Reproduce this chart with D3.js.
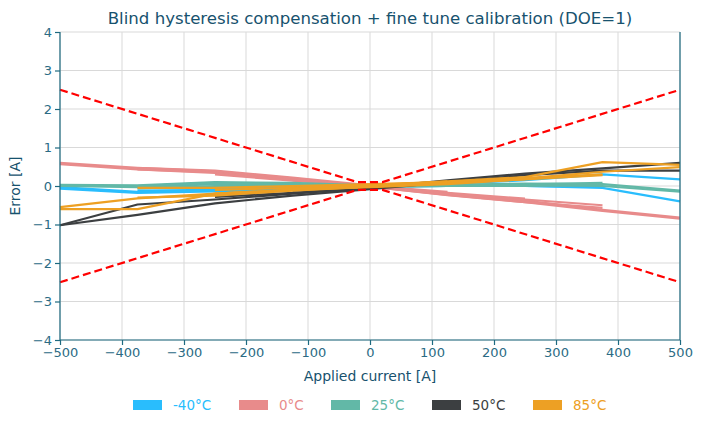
<!DOCTYPE html>
<html>
<head>
<meta charset="utf-8">
<script src="https://cdn.jsdelivr.net/npm/d3@7"></script>
<style>
  body { margin: 0; background: #fff; }
  svg { font-family: "DejaVu Sans", sans-serif; }
  .grid line { stroke: #d9d9d9; stroke-width: 1; }
  .axis path, .axis line { stroke: #1d6a80; }
  .axis text { fill: #2b6b84; font-size: 13px; }
</style>
</head>
<body>
<svg id="chart" width="702" height="428"></svg>
<script>
// x positions of the measurement points [A]
const currents = [-500, -375, -250, -125, 0, 125, 250, 375, 500];

// error [A] for each sweep, null where a sweep does not reach
const errMinus40 = [
  [-0.03, -0.15, -0.12, -0.06, 0.0, 0.05, 0.15, 0.3, 0.17],
  [-0.07, -0.18, -0.14, -0.08, -0.02, 0.0, 0.0, -0.05, -0.4],
  [null, -0.12, -0.1, -0.05, 0.0, 0.02, 0.02, 0.0, null],
  [null, -0.15, -0.12, -0.06, -0.01, 0.0, 0.0, -0.02, null],
  [null, null, -0.08, -0.04, 0.0, 0.02, 0.02, null, null],
  [null, null, null, -0.03, 0.0, 0.02, null, null, null]
];
const err0 = [
  [0.6, 0.47, 0.4, 0.22, 0.02, -0.2, -0.38, -0.62, -0.82],
  [0.57, 0.43, 0.36, 0.18, -0.02, -0.23, -0.42, -0.65, -0.85],
  [null, 0.47, 0.38, 0.2, 0.0, -0.2, -0.35, -0.5, null],
  [null, 0.43, 0.34, 0.16, -0.02, -0.24, -0.42, -0.57, null],
  [null, null, 0.33, 0.17, 0.0, -0.18, -0.33, null, null],
  [null, null, 0.3, 0.14, -0.02, -0.2, -0.37, null, null],
  [null, null, null, 0.15, 0.0, -0.15, null, null, null]
];
const err25 = [
  [0.03, 0.02, 0.1, 0.08, 0.02, 0.03, 0.06, 0.05, -0.12],
  [0.0, -0.03, 0.05, 0.04, 0.0, 0.0, 0.02, 0.0, -0.15],
  [null, 0.0, 0.08, 0.05, 0.0, 0.02, 0.04, 0.08, null],
  [null, -0.06, 0.0, 0.02, -0.02, 0.0, 0.0, 0.03, null],
  [null, null, 0.06, 0.04, 0.0, 0.02, 0.05, null, null],
  [null, null, -0.03, 0.0, -0.02, 0.0, 0.02, null, null]
];
const err50 = [
  [-1.02, -0.48, -0.35, -0.2, -0.05, 0.15, 0.32, 0.46, 0.6],
  [-1.02, -0.75, -0.45, -0.25, -0.08, 0.1, 0.28, 0.4, 0.4],
  [null, null, -0.28, -0.18, -0.05, 0.1, 0.2, null, null],
  [null, null, null, -0.12, -0.03, 0.07, null, null, null]
];
const err85 = [
  [-0.55, -0.32, -0.2, -0.1, 0.0, 0.12, 0.23, 0.62, 0.55],
  [-0.6, -0.6, -0.2, -0.1, -0.02, 0.1, 0.2, 0.37, 0.49],
  [null, -0.05, -0.05, 0.0, 0.05, 0.1, 0.2, 0.3, null],
  [null, -0.3, -0.25, -0.12, -0.02, 0.08, 0.17, 0.28, null],
  [null, null, -0.1, -0.05, 0.02, 0.1, 0.22, null, null],
  [null, null, -0.2, -0.1, -0.03, 0.05, 0.18, null, null],
  [null, null, null, -0.05, 0.02, 0.12, null, null, null],
  [null, null, null, -0.08, -0.02, 0.08, null, null, null]
];

// tolerance band
const limitX = [-500, -20, 20, 500];
const limitY = [2.5, 0.1, 0.1, 2.5];

const temps = ["-40°C", "0°C", "25°C", "50°C", "85°C"];
const colors = ["#29bdfd", "#e88b8b", "#62b8a7", "#3c3f41", "#eda024"];
const sweeps = [errMinus40, err0, err25, err50, err85];

const xTicks = d3.range(-500, 501, 100);
const yTicks = d3.range(-4, 5, 1);

const svg = d3.select("#chart");
const margin = { left: 60, right: 22, top: 32, bottom: 88 };
const width = 702 - margin.left - margin.right;
const height = 428 - margin.top - margin.bottom;

const x = d3.scaleLinear().domain([-500, 500]).range([margin.left, margin.left + width]);
const y = d3.scaleLinear().domain([-4, 4]).range([margin.top + height, margin.top]);

// grid
const grid = svg.append("g").attr("class", "grid");
grid.selectAll(".gx").data(xTicks).enter().append("line")
  .attr("x1", d => x(d)).attr("x2", d => x(d))
  .attr("y1", y(-4)).attr("y2", y(4));
grid.selectAll(".gy").data(yTicks).enter().append("line")
  .attr("x1", x(-500)).attr("x2", x(500))
  .attr("y1", d => y(d)).attr("y2", d => y(d));

const fmt = d => d < 0 ? "\u2212" + Math.abs(d) : String(d);

const plot = svg.append("g");
const line = d3.line()
  .defined(d => d[1] !== null)
  .x(d => x(d[0]))
  .y(d => y(d[1]));

sweeps.forEach((set, i) => {
  set.forEach(vals => {
    plot.append("path")
      .attr("d", line(currents.map((c, k) => [c, vals[k]])))
      .attr("fill", "none")
      .attr("stroke", colors[i])
      .attr("stroke-width", 2.2)
      .attr("stroke-linejoin", "round");
  });
});

// red limits
[1, -1].forEach(s => {
  plot.append("path")
    .attr("d", line(limitX.map((c, k) => [c, s * limitY[k]])))
    .attr("fill", "none")
    .attr("stroke", "#ff0000")
    .attr("stroke-width", 2.2)
    .attr("stroke-dasharray", "8,4");
});

// axes
svg.append("g").attr("class", "axis")
  .attr("transform", `translate(0,${y(-4)})`)
  .call(d3.axisBottom(x).tickValues(xTicks).tickFormat(fmt).tickSize(5).tickPadding(3))
  .call(g => g.select(".domain").attr("d", `M${x(-500)},0H${x(500)}`));

svg.append("g").attr("class", "axis")
  .attr("transform", `translate(${x(-500)},0)`)
  .call(d3.axisLeft(y).tickValues(yTicks).tickFormat(fmt).tickSize(5).tickPadding(3))
  .call(g => g.select(".domain").attr("d", `M0,${y(-4)}V${y(4)}`));

svg.append("line")
  .attr("x1", x(500)).attr("x2", x(500))
  .attr("y1", y(-4)).attr("y2", y(4))
  .attr("stroke", "#1d6a80")
  .attr("stroke-width", 1.2);

svg.selectAll(".axis path, .axis line").attr("stroke-width", 1.2);
svg.selectAll(".axis text").attr("font-family", "DejaVu Sans");

// title + labels
svg.append("text")
  .attr("x", x(0)).attr("y", 24)
  .attr("text-anchor", "middle")
  .attr("font-size", 16.6)
  .attr("fill", "#17526e")
  .text("Blind hysteresis compensation + fine tune calibration (DOE=1)");

svg.append("text")
  .attr("x", x(0)).attr("y", 381)
  .attr("text-anchor", "middle")
  .attr("font-size", 14)
  .attr("fill", "#17526e")
  .text("Applied current [A]");

svg.append("text")
  .attr("transform", `translate(20,${y(0)}) rotate(-90)`)
  .attr("text-anchor", "middle")
  .attr("font-size", 14)
  .attr("fill", "#17526e")
  .text("Error [A]");

// legend
const legendX = [133, 239, 331, 432, 533];
const legend = svg.append("g");
temps.forEach((t, i) => {
  legend.append("rect")
    .attr("x", legendX[i]).attr("y", 400)
    .attr("width", 29).attr("height", 10)
    .attr("fill", colors[i]);
  legend.append("text")
    .attr("x", legendX[i] + 40).attr("y", 410)
    .attr("font-size", 13.5)
    .attr("fill", colors[i])
    .text(t);
});
</script>
</body>
</html>
